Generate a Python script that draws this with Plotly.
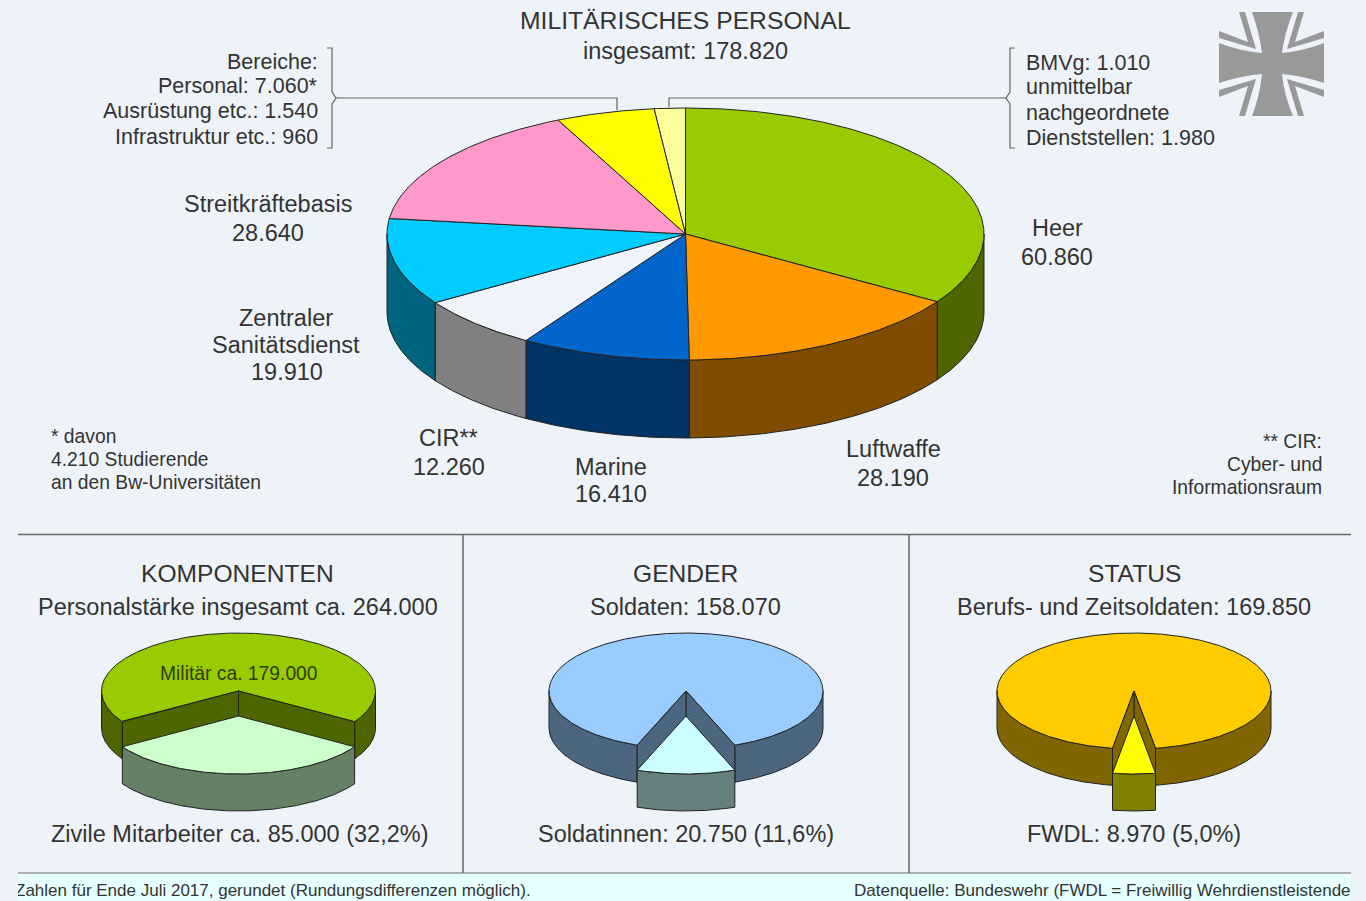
import numpy as np
import plotly.graph_objects as go

# ---------- data ----------
main_labels = ["Heer", "Luftwaffe", "Marine", "CIR", "Zentraler Sanitätsdienst",
               "Streitkräftebasis", "Bereiche", "BMVg"]
main_values = [60860, 28190, 16410, 12260, 19910, 28640, 9560, 2990]
main_top_colors = ["#99CC00", "#FF9900", "#0066CC", "#EFF4FA", "#00CCFF", "#FF99CC", "#FFFF00", "#FFFF99"]
main_wall_colors = ["#4D6600", "#804D00", "#003366", "#808080", "#006680", "#804D66", "#808000", "#808050"]

komponenten_values = [179000, 85000]
gender_values = [158070, 20750]
status_values = [169850, 8970]
komponenten_colors = ["#99CC00", "#4D6600", "#CCFFCC", "#668066"]
gender_colors = ["#99CCFF", "#4D6680", "#CCFFFF", "#668080"]
status_colors = ["#FFCC00", "#806600", "#FFFF00", "#808000"]

BG = "#EEF3FA"
INK = "#333333"
FONT = "Liberation Sans"
EDGE = "#222222"

fig = go.Figure()


def de(v):
    return f"{v:,}".replace(",", ".")


def arc(cx, cy, rx, ry, a0, a1):
    t = np.radians(np.linspace(a0, a1, max(3, int(abs(a1 - a0) * 2) + 2)))
    return cx + rx * np.sin(t), cy - ry * np.cos(t)


def poly(xs, ys, color, edge=EDGE, width=1):
    fig.add_trace(go.Scatter(x=list(xs) + [xs[0]], y=list(ys) + [ys[0]], mode="lines", fill="toself",
                             fillcolor=color, line=dict(color=edge, width=width), hoverinfo="skip",
                             showlegend=False))


def wedge(cx, cy, rx, ry, a0, a1, color):
    x, y = arc(cx, cy, rx, ry, a0, a1)
    poly(np.r_[cx, x], np.r_[cy, y], color)


def wall(cx, cy, rx, ry, depth, a0, a1, color):
    lo, hi = max(a0, 90), min(a1, 270)
    if hi <= lo:
        return
    x, y = arc(cx, cy, rx, ry, lo, hi)
    poly(np.r_[x, x[::-1]], np.r_[y, y[::-1] + depth], color)


# ---------- main pie ----------
CX, CY, RX, RY, DEPTH = 685.5, 234, 298.5, 126, 78
edges = np.r_[0, np.cumsum(main_values)] / sum(main_values) * 360
for i in range(len(main_values)):
    wall(CX, CY, RX, RY, DEPTH, edges[i], edges[i + 1], main_wall_colors[i])
for i in range(len(main_values)):
    wedge(CX, CY, RX, RY, edges[i], edges[i + 1], main_top_colors[i])


# ---------- small exploded pies ----------
def small_pie(cx, values, colors):
    cy, rx, ry, depth, drop = 691, 137, 58, 37, 25
    half = values[1] / sum(values) * 180
    a0, a1 = 180 - half, 180 + half
    top, side, s_top, s_side = colors
    wall(cx, cy, rx, ry, depth, 90, a0, side)
    wall(cx, cy, rx, ry, depth, a1, 270, side)
    wedge(cx, cy, rx, ry, a1, a0 + 360, top)
    for a in (a0, a1):
        x, y = arc(cx, cy, rx, ry, a, a)
        poly([cx, x[0], x[0], cx], [cy, y[0], y[0] + depth, cy + depth], side)
    wall(cx, cy + drop, rx, ry, depth, a0, a1, s_side)
    wedge(cx, cy + drop, rx, ry, a0, a1, s_top)


small_pie(238.5, komponenten_values, komponenten_colors)
small_pie(686, gender_values, gender_colors)
small_pie(1134, status_values, status_colors)


# ---------- text ----------
def label(x, y, text, size=23.5, anchor="center", color=INK):
    fig.add_annotation(x=x, y=y, text=text, showarrow=False, xanchor=anchor, yanchor="middle",
                       font=dict(family=FONT, size=size, color=color))


label(685, 20, "MILITÄRISCHES PERSONAL", 24.7)
label(685, 51, f"insgesamt: {de(sum(main_values))}", 23.5)

for y, t in zip((62, 86, 111, 137), ("Bereiche:", "Personal: 7.060*", "Ausrüstung etc.: 1.540", "Infrastruktur etc.: 960")):
    label(320, y, t, 21.5, "right")
for y, t in zip((63, 87, 113, 138), ("BMVg: 1.010", "unmittelbar", "nachgeordnete", "Dienststellen: 1.980")):
    label(1024, y, t, 21.5, "left")

label(268, 204, main_labels[5]); label(268, 233, de(main_values[5]))
label(1057, 228, main_labels[0]); label(1057, 257, de(main_values[0]))
label(286, 318, "Zentraler"); label(286, 345, "Sanitätsdienst"); label(286.5, 372, de(main_values[4]))
label(448, 438, main_labels[3] + "**"); label(449, 467, de(main_values[3]))
label(611, 467, main_labels[2]); label(611, 494, de(main_values[2]))
label(893, 449, main_labels[1]); label(893, 478, de(main_values[1]))

for y, t in zip((436, 459, 482), ("* davon", "4.210 Studierende", "an den Bw-Universitäten")):
    label(49, y, t, 19.3, "left")
for y, t in zip((441, 464, 487), ("** CIR:", "Cyber- und", "Informationsraum")):
    label(1324, y, t, 19.3, "right")

label(237, 573, "KOMPONENTEN", 24.6)
label(238, 607, "Personalstärke insgesamt ca. 264.000", 23.5)
label(238.5, 673, "Militär ca. 179.000", 19.3, color="#2E3D00")
label(239, 834, "Zivile Mitarbeiter ca. 85.000 (32,2%)", 23.5)
label(685, 573, "GENDER", 24.6)
label(685, 607, f"Soldaten: {de(gender_values[0])}", 23.5)
label(686, 834, f"Soldatinnen: {de(gender_values[1])} (11,6%)", 23.5)
label(1134, 573, "STATUS", 24.6)
label(1133.5, 607, f"Berufs- und Zeitsoldaten: {de(status_values[0])}", 23.5)
label(1133.5, 834, f"FWDL: {de(status_values[1])} (5,0%)", 23.5)

# footer text is a trace so the masks above can cut it at the panel edges
fig.add_trace(go.Scatter(x=[15], y=[892], mode="text", text=["Zahlen für Ende Juli 2017, gerundet (Rundungsdifferenzen möglich)."],
                         textposition="middle right", textfont=dict(family=FONT, size=17, color=INK),
                         hoverinfo="skip", showlegend=False))
fig.add_trace(go.Scatter(x=[854], y=[892], mode="text", text=["Datenquelle: Bundeswehr (FWDL = Freiwillig Wehrdienstleistende)"],
                         textposition="middle right", textfont=dict(family=FONT, size=17, color=INK),
                         hoverinfo="skip", showlegend=False))

# ---------- rules, brackets, emblem ----------
shapes = [
    dict(type="rect", x0=18, x1=1351, y0=874, y1=901, fillcolor="#E6FFFF", line_width=0, layer="below"),
    dict(type="rect", x0=0, x1=18, y0=874, y1=901, fillcolor=BG, line_width=0, layer="above"),
    dict(type="rect", x0=1351, x1=1366, y0=874, y1=901, fillcolor=BG, line_width=0, layer="above"),
]
for x0, y0, x1, y1, c in [(18, 534.5, 1351, 534.5, "#666666"), (18, 873, 1351, 873, "#999999"),
                          (463, 534, 463, 873, "#666666"), (909, 534, 909, 873, "#666666")]:
    shapes.append(dict(type="line", x0=x0, y0=y0, x1=x1, y1=y1, line=dict(color=c, width=1.5), layer="below"))
for path in ["M327,48 L332,48 L332,92 L336,98 L332,104 L332,148 L327,148",
             "M336,98 L617,98 L617,110",
             "M1015,48 L1010,48 L1010,92 L1006,98 L1010,104 L1010,148 L1015,148",
             "M1006,98 L669,98 L669,107"]:
    shapes.append(dict(type="path", path=path, line=dict(color="#666666", width=1.2), layer="below"))

GREY = "#999999"
shapes.append(dict(type="path", fillcolor=GREY, line_width=0, layer="below",
                   path="M1252,12 L1293,12 Q1284,35 1282,53 Q1303,51 1324,43 L1324,83 Q1303,76 1282,74 "
                        "Q1284,95 1293,116 L1252,116 Q1260,95 1262,74 Q1240,76 1219,83 L1219,43 Q1240,51 1262,53 "
                        "Q1260,35 1252,12 Z"))
cxm, cym = 1271.5, 64
corner = [(1298, 12), (1304, 12), (1295, 42), (1324, 31), (1324, 38), (1287, 49)]
for sx, sy in [(1, 1), (-1, 1), (1, -1), (-1, -1)]:
    pts = [(cxm + sx * (px - cxm), cym + sy * (py - cym)) for px, py in corner]
    shapes.append(dict(type="path", fillcolor=GREY, line_width=0, layer="below",
                       path="M" + " L".join(f"{a},{b}" for a, b in pts) + " Z"))

fig.update_layout(
    width=1366, height=901, margin=dict(l=0, r=0, t=0, b=0), showlegend=False,
    paper_bgcolor=BG, plot_bgcolor=BG, shapes=shapes,
    xaxis=dict(range=[0, 1366], visible=False, fixedrange=True),
    yaxis=dict(range=[901, 0], visible=False, fixedrange=True),
)
fig.write_html("out.html", config=dict(displayModeBar=False),
               post_script="document.body.style.margin='0';document.body.style.overflow='hidden';"
                           f"document.body.style.background='{BG}';")
